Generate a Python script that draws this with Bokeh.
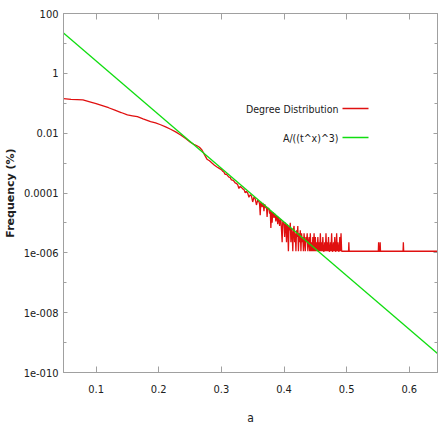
import numpy as np
from bokeh.plotting import figure
from bokeh.models import (FixedTicker, CustomJSTickFormatter, PrintfTickFormatter,
                          LinearAxis, LogAxis, Label, Arrow, CustomLabelingPolicy)
from bokeh.embed import file_html
from bokeh.resources import INLINE

# ---- degree distribution (% of nodes) ----
# smooth head of the distribution
head_a = [0.048, 0.060, 0.070, 0.079, 0.090, 0.100, 0.110, 0.120, 0.130, 0.140,
          0.150, 0.158, 0.166, 0.175, 0.187, 0.195, 0.203, 0.211, 0.219, 0.227,
          0.235, 0.243, 0.251, 0.256, 0.261, 0.265, 0.269, 0.273, 0.277, 0.281,
          0.285, 0.289, 0.293, 0.296]
head_freq = [0.142, 0.135, 0.132, 0.129, 0.112, 0.0977, 0.0832, 0.0708, 0.0589, 0.0490,
             0.0407, 0.0380, 0.0355, 0.0302, 0.0245, 0.0219, 0.0191, 0.0162, 0.0135, 0.0110,
             0.00871, 0.00661, 0.00490, 0.00427, 0.00380, 0.00339, 0.00275, 0.00191, 0.00135, 0.00120,
             0.00100, 0.000851, 0.000741, 0.000676]

# middle section, every 0.002
mid_a = [0.300, 0.302, 0.304, 0.306, 0.308, 0.310, 0.312, 0.314, 0.316, 0.318,
         0.320, 0.322, 0.324, 0.326, 0.328, 0.330, 0.332, 0.334, 0.336, 0.338,
         0.340, 0.342, 0.344, 0.346, 0.348, 0.350, 0.352, 0.354, 0.356, 0.358]
mid_freq = [6.03e-4, 5.37e-4, 5.01e-4, 4.17e-4, 4.27e-4, 3.80e-4, 3.39e-4, 3.31e-4, 2.75e-4, 2.69e-4,
            2.51e-4, 2.19e-4, 2.09e-4, 1.91e-4, 1.41e-4, 1.66e-4, 1.55e-4, 1.38e-4, 1.32e-4, 1.02e-4,
            1.12e-4, 1.00e-4, 7.24e-5, 8.71e-5, 7.94e-5, 5.01e-5, 7.24e-5, 6.31e-5, 3.98e-5, 5.75e-5]

# sparse tail: node counts per 0.001 step from a = 0.360; one node = one_node %
one_node = 1.13e-6
tail_start = 0.360
tail_counts = [45, 38, 16, 44, 40, 30, 41, 36, 22, 37,
               33, 28, 31, 14, 29, 26, 27, 18, 24, 6,
               21, 9, 20, 19, 13, 18, 16, 10, 15, 14,
               8, 14, 12, 7, 11, 12, 5, 2, 10, 9,
               8, 3, 9, 7, 2, 8, 6, 1, 7, 5,
               9, 2, 6, 4, 1, 5, 7, 2, 4, 1,
               5, 3, 7, 1, 4, 2, 5, 1, 4, 2,
               3, 1, 4, 2, 1, 3, 2, 4, 1, 2,
               3, 1, 4, 1, 2, 1, 3, 1, 4, 1,
               3, 1, 2, 1, 3, 1, 2, 1, 4, 1,
               2, 1, 3, 1, 1, 2, 1, 4, 1, 2,
               1, 3, 1, 1, 2, 1, 4, 1, 1, 2,
               1, 3, 1, 1, 4, 1, 2, 1, 1, 3,
               1, 4, 1]
# single-node floor with a few isolated two-node points
floor_a = [0.493, 0.503, 0.5035, 0.504, 0.5505, 0.551, 0.5515, 0.553, 0.5535, 0.554,
           0.590, 0.5905, 0.591, 0.645]
floor_counts = [1, 1, 2, 1, 1, 2, 1, 1, 2, 1, 1, 2, 1, 1]

# fitted power law A/((t^x)^3), end points across the plotted range
fit_a = [0.048, 0.645]
fit_freq = [22.4, 4.3e-10]

# axes
x_ticks = [0.1, 0.2, 0.3, 0.4, 0.5, 0.6]
y_exps = [-10, -8, -6, -4, -2, 0, 2]
y_labels = ["1e-010", "1e-008", "1e-006", "0.0001", "0.01", "1", "100"]
y_minor_exps = [-9, -7, -5, -3, -1, 1]

tail_a = list(np.round(tail_start + 0.001 * np.arange(len(tail_counts)), 4))
dist_a = head_a + mid_a + tail_a + floor_a
dist_freq = (head_freq + mid_freq
             + [c * one_node for c in tail_counts]
             + [c * one_node for c in floor_counts])

NARROW = "DejaVu Sans Condensed, Liberation Sans, sans-serif"
FRAME = "#a0a0a0"
RED = "#e01010"
GREEN = "#10dd10"
INK = "#202020"

p = figure(width=439, height=428, y_axis_type="log",
           x_range=(0.048, 0.645), y_range=(1e-10, 100),
           output_backend="svg", toolbar_location=None,
           min_border_left=62, min_border_right=2, min_border_top=13, min_border_bottom=56)
p.grid.visible = False
p.outline_line_color = FRAME
p.outline_line_width = 1
p.background_fill_color = "white"
p.border_fill_color = "white"

p.line(dist_a, dist_freq, line_color=RED, line_width=1.3)
p.line(fit_a, fit_freq, line_color=GREEN, line_width=1.3)

y_ticker = FixedTicker(ticks=[10.0 ** e for e in y_exps],
                       minor_ticks=[10.0 ** e for e in y_minor_exps])
x_ticker = FixedTicker(ticks=x_ticks, minor_ticks=[])
y_fmt = CustomJSTickFormatter(args=dict(exps=y_exps, labels=y_labels), code="""
    const e = Math.round(Math.log10(tick));
    const i = exps.indexOf(e);
    return i >= 0 ? labels[i] : "";
""")
# mirror axes carry ticks only
blank_fmt = CustomJSTickFormatter(code='return "";')
no_labels = CustomLabelingPolicy(code="""
    for (const i of Array.from(indices)) indices.unset(i);
    return indices;
""")


def style(ax, tick_in):
    ax.axis_line_color = FRAME
    ax.major_tick_line_color = FRAME
    ax.minor_tick_line_color = FRAME
    ax.major_tick_in = tick_in
    ax.major_tick_out = 0
    ax.minor_tick_in = 3
    ax.minor_tick_out = 0


xa = p.xaxis[0]
xa.ticker = x_ticker
xa.formatter = PrintfTickFormatter(format="%.1f")
style(xa, 6)
xa.major_label_standoff = 12
xa.major_label_text_font = NARROW
xa.major_label_text_font_size = "11px"
xa.major_label_text_color = INK
xa.axis_label = "a"
xa.axis_label_text_font = NARROW
xa.axis_label_text_font_size = "12px"
xa.axis_label_text_font_style = "normal"
xa.axis_label_standoff = 15
xa.axis_label_text_color = INK

ya = p.yaxis[0]
ya.ticker = y_ticker
ya.formatter = y_fmt
style(ya, 4)
ya.major_label_standoff = 5
ya.major_label_text_font = NARROW
ya.major_label_text_font_size = "11px"
ya.major_label_text_color = INK
ya.axis_label = "Frequency (%)"
ya.axis_label_text_font = "DejaVu Sans"
ya.axis_label_text_font_size = "11px"
ya.axis_label_text_font_style = "bold"
ya.axis_label_standoff = 4
ya.axis_label_text_color = INK

top = LinearAxis(ticker=x_ticker, formatter=blank_fmt, major_label_policy=no_labels,
                 major_label_standoff=0)
style(top, 6)
p.add_layout(top, "above")
right = LogAxis(ticker=y_ticker, formatter=blank_fmt, major_label_policy=no_labels,
                major_label_standoff=0)
style(right, 4)
p.add_layout(right, "right")

# key, drawn with the label to the left of its line sample
key_labels = ["Degree Distribution", "A/((t^x)^3)"]
key_colors = [RED, GREEN]
for i, (txt, col) in enumerate(zip(key_labels, key_colors)):
    sy = 264 - 29 * i
    p.add_layout(Label(x=275, y=sy, x_units="screen", y_units="screen", text=txt,
                       text_align="right", text_baseline="middle",
                       text_font=NARROW, text_font_size="10.5px", text_color=INK))
    p.add_layout(Arrow(x_start=279, y_start=sy, x_end=305, y_end=sy,
                       start_units="screen", end_units="screen", start=None, end=None,
                       line_color=col, line_width=1.3))

open("out.html", "w").write(file_html(p, INLINE))
